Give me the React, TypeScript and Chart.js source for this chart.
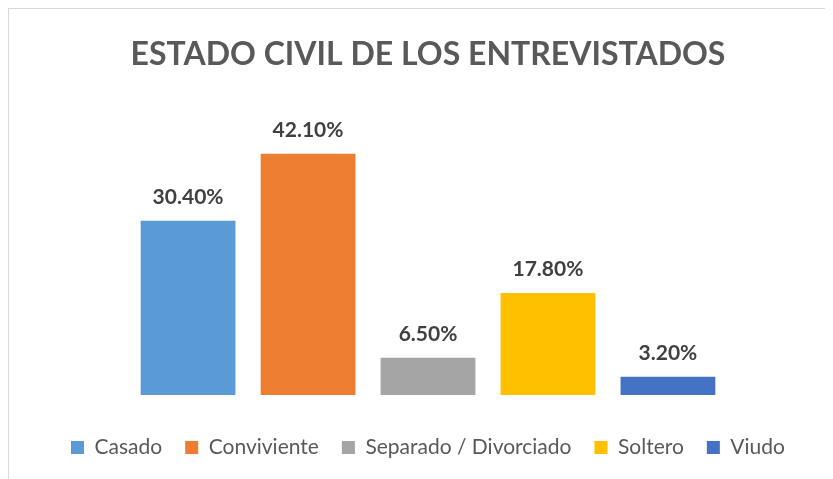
import React, { useEffect, useRef } from "react";
import { Chart, registerables } from "chart.js";

Chart.register(...registerables);

const titleText = "ESTADO CIVIL DE LOS ENTREVISTADOS";
const categories = ["Casado", "Conviviente", "Separado / Divorciado", "Soltero", "Viudo"];
const values = [30.4, 42.1, 6.5, 17.8, 3.2];
const colors = ["#5B9BD5", "#ED7D31", "#A5A5A5", "#FFC000", "#4472C4"];
const yMax = 50;

const FONT = "Lato, 'Open Sans', sans-serif";

const valueLabels = {
  id: "valueLabels",
  afterDatasetsDraw(chart: any) {
    const ctx = chart.ctx;
    ctx.save();
    ctx.font = `bold 21px ${FONT}`;
    ctx.fillStyle = "#404040";
    ctx.textAlign = "center";
    ctx.textBaseline = "alphabetic";
    chart.data.datasets.forEach((ds: any, i: number) => {
      const meta = chart.getDatasetMeta(i);
      const el = meta.data[0];
      if (!el) return;
      ctx.fillText(ds.data[0].toFixed(2) + "%", el.x, el.y - 17);
    });
    ctx.restore();
  },
};

export default function App() {
  const ref = useRef<HTMLCanvasElement>(null);
  useEffect(() => {
    if (!ref.current) return;
    const chart = new Chart(ref.current, {
      type: "bar",
      data: {
        labels: [""],
        datasets: categories.map((c, i) => ({
          label: c,
          data: [values[i]],
          backgroundColor: colors[i],
          borderWidth: 0,
          categoryPercentage: 0.771,
          barPercentage: 0.79,
        })),
      },
      options: {
        animation: false,
        responsive: false,
        maintainAspectRatio: false,
        layout: { padding: { left: 30, right: 16, top: 0, bottom: 11 } },
        scales: {
          x: {
            display: true,
            grid: { display: false },
            border: { display: false },
            ticks: { display: false },
            afterFit: (scale: any) => {
              scale.height = 19;
            },
          },
          y: { display: false, min: 0, max: yMax },
        },
        plugins: {
          title: {
            display: true,
            text: titleText,
            color: "#595959",
            font: { family: FONT, size: 32, weight: "bold" },
            padding: { top: 26, bottom: 35 },
          },
          legend: {
            position: "bottom",
            labels: {
              color: "#595959",
              font: { family: FONT, size: 21 },
              boxWidth: 13,
              boxHeight: 13,
              padding: 23,
            },
          },
          tooltip: { enabled: false },
        },
      },
      plugins: [valueLabels],
    });
    return () => chart.destroy();
  }, []);
  return (
    <div
      style={{
        width: 900,
        height: 500,
        borderLeft: "1px solid #d9d9d9",
        borderTop: "1px solid #d9d9d9",
        boxSizing: "border-box",
      }}
    >
      <canvas ref={ref} width={824} height={470} style={{ display: "block" }} />
    </div>
  );
}
